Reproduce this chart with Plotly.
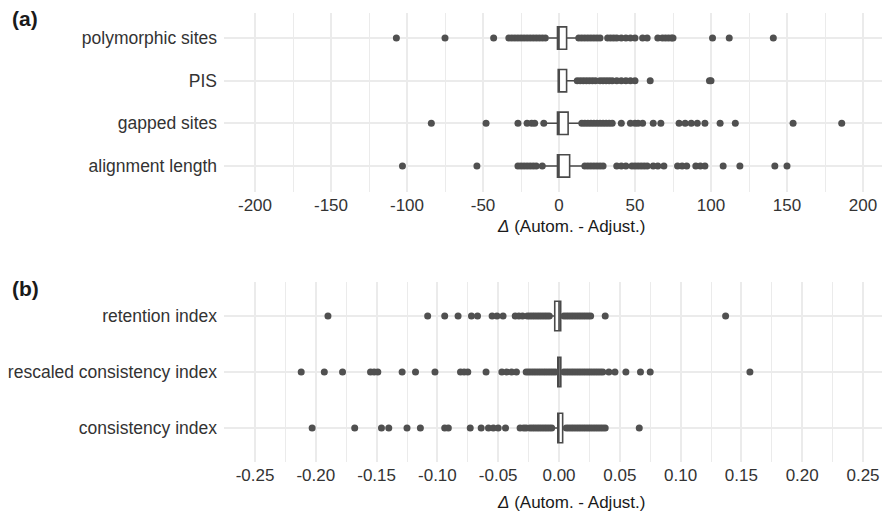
import plotly.graph_objects as go

# ---------------- data: panel (a) ----------------
cats_a = ["alignment length", "gapped sites", "PIS", "polymorphic sites"]
q1_a = [-1, -1, -0.5, -1]
median_a = [0, 0, 0, 0]
q3_a = [7, 6, 5, 5]
lowerfence_a = [-10, -9, -0.5, -7]
upperfence_a = [16, 14, 11, 12]

out_alignment = [-103, -54, -27, -25, -23, -21, -19, -17, -15, -11,
                 17, 19, 21, 23, 25, 27, 29, 38, 41, 44, 48, 50, 52, 54, 56, 58,
                 62, 65, 69, 78, 81, 84, 90, 93, 96, 108, 119, 142, 150]
out_gapped = [-84, -48, -27, -21, -18, -16, -10,
              15, 17, 19, 21, 23, 25, 27, 29, 31, 33, 35, 41, 47, 50, 52, 55,
              62, 67, 79, 83, 87, 91, 96, 106, 116, 154, 186]
out_pis = [12, 14, 16, 18, 20, 22, 24, 27, 29, 31, 33, 35, 38, 41, 44, 47, 50,
           60, 99, 100]
out_poly = [-107, -75, -43, -33, -31, -29, -27, -25, -23, -21, -19, -17, -15,
            -13, -11, -9,
            13, 15, 17, 19, 21, 23, 25, 27, 32, 34, 36, 38, 41, 44, 47, 50, 55,
            58, 65, 68, 70, 72, 74, 75, 101, 112, 141]
outliers_a = [out_alignment, out_gapped, out_pis, out_poly]

tickvals_a = [-200, -150, -100, -50, 0, 50, 100, 150, 200]
ticktext_a = ["-200", "-150", "-100", "-50", "0", "50", "100", "150", "200"]

# ---------------- data: panel (b) ----------------
cats_b = ["consistency index", "rescaled consistency index", "retention index"]
q1_b = [-0.001, -0.001, -0.0035]
median_b = [-0.0005, 0.0, 0.0]
q3_b = [0.003, 0.0015, 0.0014]
lowerfence_b = [-0.004, -0.002, -0.006]
upperfence_b = [0.0045, 0.003, 0.003]

out_ci = [-0.203, -0.168, -0.146, -0.140, -0.125, -0.114, -0.094, -0.091,
          -0.073, -0.064, -0.058, -0.054, -0.050, -0.044, -0.032, -0.029,
          -0.027, -0.024, -0.022, -0.020, -0.018, -0.016, -0.014, -0.012,
          -0.010, -0.008, -0.006,
          0.006, 0.008, 0.010, 0.012, 0.014, 0.016, 0.018, 0.020, 0.022,
          0.024, 0.026, 0.028, 0.030, 0.032, 0.034, 0.036, 0.038, 0.066]
out_rci = [-0.212, -0.193, -0.178, -0.155, -0.152, -0.149, -0.129, -0.118,
           -0.102, -0.081, -0.078, -0.075, -0.060, -0.047, -0.043, -0.039,
           -0.035, -0.027, -0.025, -0.023, -0.021, -0.019, -0.017, -0.015,
           -0.013, -0.011, -0.009, -0.007, -0.005, -0.003,
           0.004, 0.006, 0.008, 0.010, 0.012, 0.014, 0.016, 0.018, 0.020,
           0.022, 0.024, 0.026, 0.028, 0.030, 0.032, 0.034, 0.036, 0.041,
           0.046, 0.055, 0.067, 0.075, 0.157]
out_ri = [-0.190, -0.108, -0.094, -0.083, -0.072, -0.067, -0.055, -0.051,
          -0.046, -0.036, -0.033, -0.030, -0.026, -0.024, -0.022, -0.020,
          -0.018, -0.016, -0.014, -0.012, -0.010, -0.008,
          0.004, 0.006, 0.008, 0.010, 0.012, 0.014, 0.016, 0.018, 0.020,
          0.022, 0.024, 0.026, 0.038, 0.137]
outliers_b = [out_ci, out_rci, out_ri]

tickvals_b = [-0.25, -0.20, -0.15, -0.10, -0.05, 0.0, 0.05, 0.10, 0.15, 0.20, 0.25]
ticktext_b = ["-0.25", "-0.20", "-0.15", "-0.10", "-0.05", "0.00", "0.05",
              "0.10", "0.15", "0.20", "0.25"]

axis_title = "<i>Δ</i> (Autom. - Adjust.)"

# ---------------- styling ----------------
W, H = 882, 517
FONT = "Liberation Sans, Arial, sans-serif"
GRID = "#EBEBEB"
BOXLINE = "#4a4a4a"
PT = "#505050"
TXT = "#333333"

fig = go.Figure()


def add_panel(cats, q1, med, q3, lf, uf, outs, xa, ya):
    fig.add_trace(go.Box(
        y=cats, q1=q1, median=med, q3=q3, lowerfence=lf, upperfence=uf,
        orientation="h", fillcolor="white",
        line=dict(color=BOXLINE, width=1.6), whiskerwidth=0,
        boxpoints=False, showlegend=False, xaxis=xa, yaxis=ya,
        hoverinfo="skip"))
    xs, ys = [], []
    for c, vals in zip(cats, outs):
        xs += vals
        ys += [c] * len(vals)
    fig.add_trace(go.Scatter(
        x=xs, y=ys, mode="markers",
        marker=dict(size=7, color=PT, line=dict(width=0)),
        showlegend=False, xaxis=xa, yaxis=ya, hoverinfo="skip"))


add_panel(cats_a, q1_a, median_a, q3_a, lowerfence_a, upperfence_a,
          outliers_a, "x", "y")
add_panel(cats_b, q1_b, median_b, q3_b, lowerfence_b, upperfence_b,
          outliers_b, "x2", "y2")

x0 = 224 / W
xdom = [x0, 1.0]
ydom_a = [1 - 191.5 / H, 1 - 12.5 / H]
ydom_b = [1 - 461.6 / H, 1 - 282.4 / H]

common_x = dict(
    showgrid=True, gridcolor=GRID, gridwidth=2, zeroline=False,
    showline=False, ticks="", tickfont=dict(size=17, color=TXT, family=FONT),
    fixedrange=True, domain=xdom, ticklabelstandoff=1)
common_y = dict(
    type="category", showgrid=True, gridcolor=GRID, gridwidth=2,
    zeroline=False, showline=False, ticks="", ticklabelstandoff=6,
    tickfont=dict(size=17.5, color=TXT, family=FONT), fixedrange=True)

fig.update_layout(
    width=W, height=H, margin=dict(l=0, r=0, t=0, b=0),
    paper_bgcolor="white", plot_bgcolor="white",
    font=dict(family=FONT, color=TXT),
    boxgap=0.25, showlegend=False,
    xaxis=dict(common_x, anchor="y", range=[-220.4, 212.5],
               tickvals=tickvals_a, ticktext=ticktext_a,
               minor=dict(dtick=25, tick0=0, showgrid=True, gridcolor=GRID,
                          gridwidth=1)),
    yaxis=dict(common_y, anchor="x", domain=ydom_a, categoryorder="array",
               categoryarray=cats_a, range=[-0.6, 3.6]),
    xaxis2=dict(common_x, anchor="y2", range=[-0.27549, 0.26562],
                tickvals=tickvals_b, ticktext=ticktext_b,
                minor=dict(dtick=0.025, tick0=0, showgrid=True,
                           gridcolor=GRID, gridwidth=1)),
    yaxis2=dict(common_y, anchor="x2", domain=ydom_b, categoryorder="array",
                categoryarray=cats_b, range=[-0.6, 2.6]),
)

# axis titles and panel tags
for ty in (227, 502):
    fig.add_annotation(x=571 / W, y=1 - ty / H, xref="paper", yref="paper",
                       xanchor="center", yanchor="middle",
                       text=axis_title, showarrow=False,
                       font=dict(size=17, color="#1a1a1a", family=FONT))
for tag, ty in (("(a)", 18), ("(b)", 288)):
    fig.add_annotation(x=10 / W, y=1 - ty / H, xref="paper", yref="paper",
                       xanchor="left", yanchor="middle",
                       text="<b>" + tag + "</b>", showarrow=False,
                       font=dict(size=21, color="#1a1a1a", family=FONT))

fig.write_html(
    "out.html",
    config={"displayModeBar": False, "staticPlot": True},
    post_script="document.body.style.margin='0';document.body.style.padding='0';",
)
